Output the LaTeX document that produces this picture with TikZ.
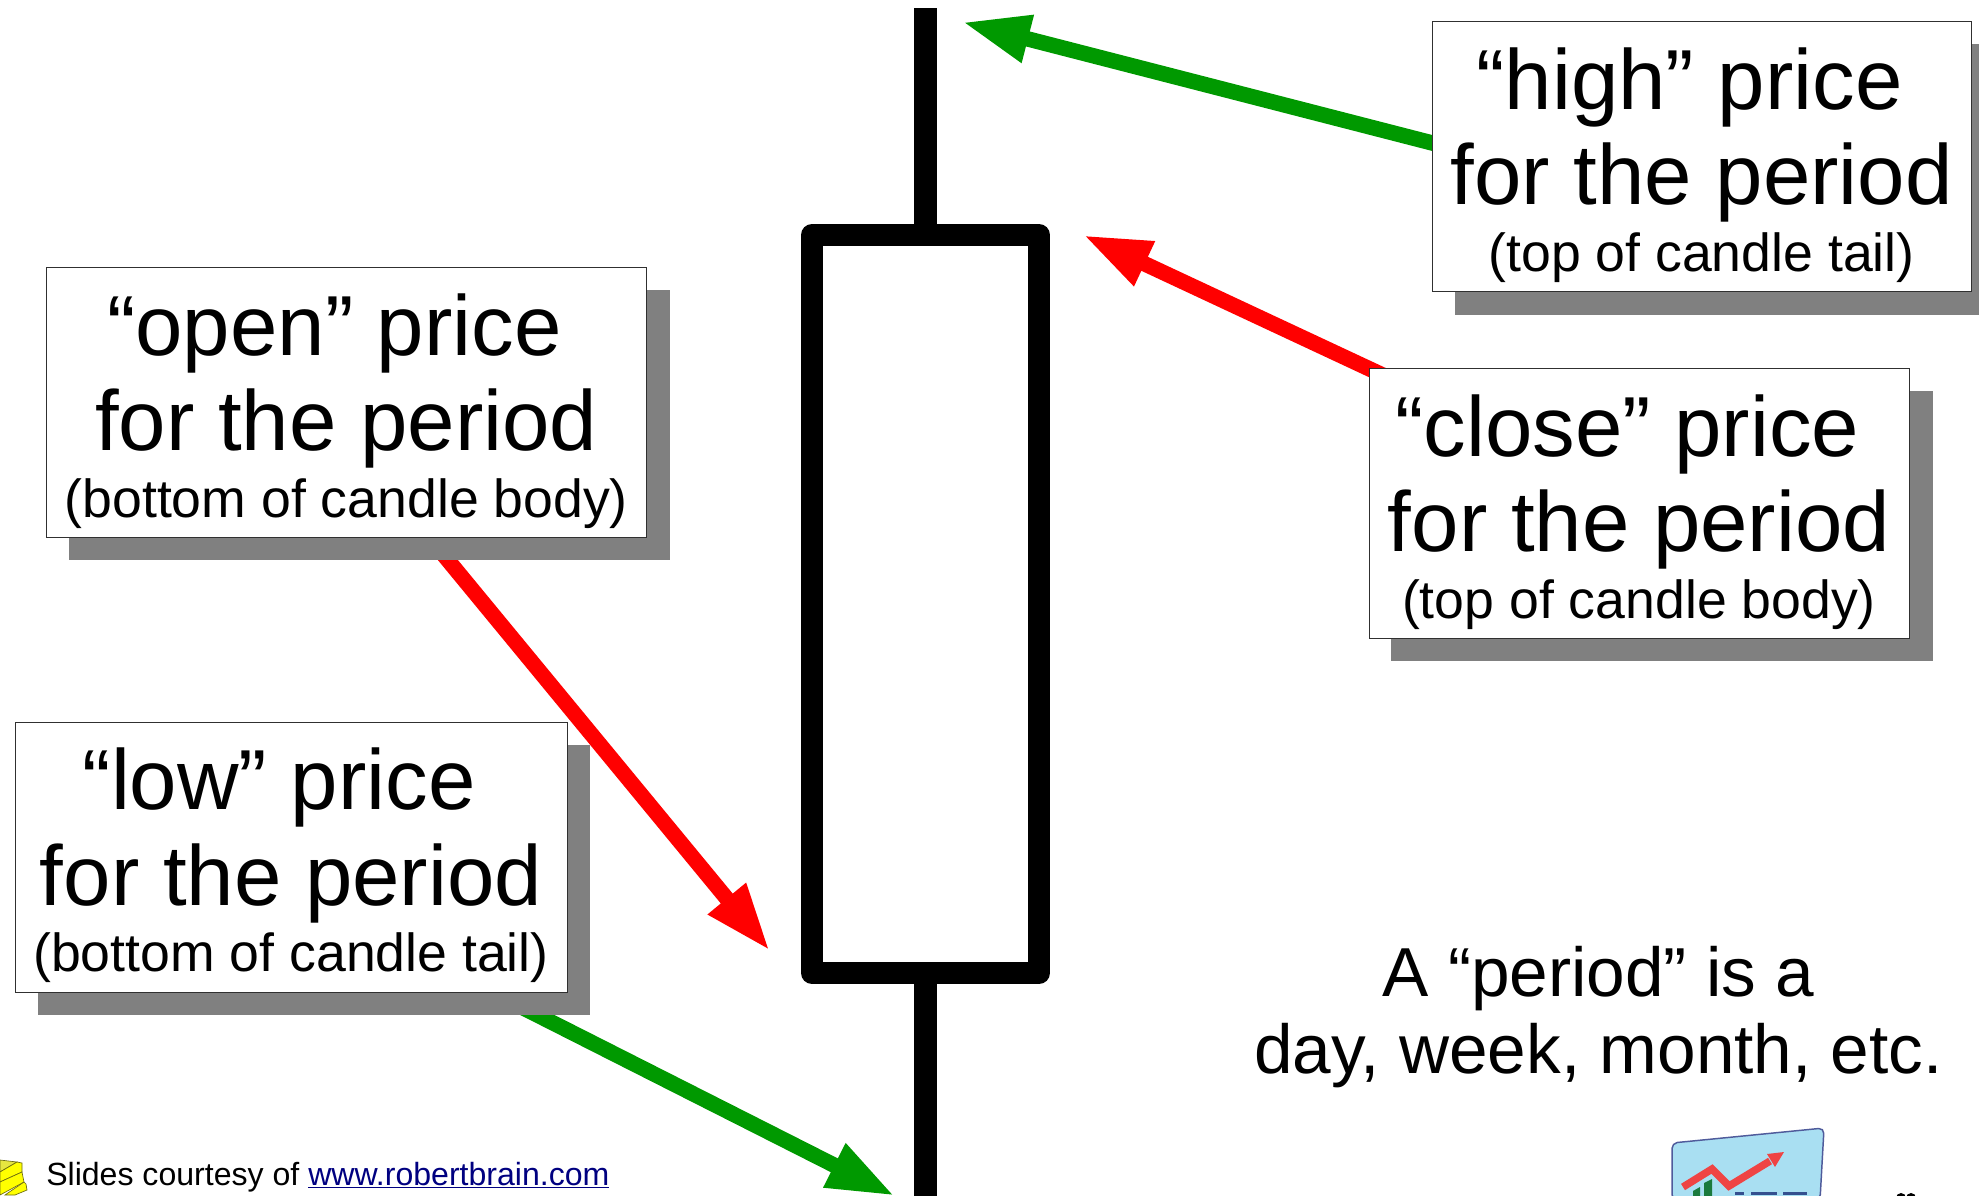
\documentclass[tikz,border=0pt]{standalone}
\usepackage{fontspec}
\setmainfont{Liberation Sans}
\usetikzlibrary{arrows.meta,calc}
\definecolor{arrowgreen}{HTML}{009900}
\definecolor{arrowred}{HTML}{FF0000}
\definecolor{shadowgray}{HTML}{808080}
\definecolor{boxedge}{HTML}{303030}
\definecolor{linknavy}{HTML}{000080}
\definecolor{logosky}{HTML}{A9DFF2}
\definecolor{logoedge}{HTML}{4F5B9B}
\definecolor{logored}{HTML}{EF4444}
\definecolor{logogreen}{HTML}{1B7A3D}
\definecolor{logonavy}{HTML}{35508F}
\definecolor{bookyellow}{HTML}{FFFF00}
\definecolor{bookpale}{HTML}{E6E640}
\definecolor{bookedge}{HTML}{6B6B10}
\pgfdeclarelayer{lowerarrows}
\pgfdeclarelayer{lowshadowlayer}
\pgfdeclarelayer{openarrowlayer}
\pgfsetlayers{lowerarrows,lowshadowlayer,openarrowlayer,main}
\newcommand{\pricetext}[3]{%
  \rule{0pt}{59pt}#1\hspace*{.278em}\\
  #2\\[-21.6pt]
  {\fontsize{40.2}{49.5}\selectfont\rule[-8.4pt]{0pt}{8.4pt}#3}}
\tikzset{
  x=0.75pt,y=-0.75pt,
  pricebox/.style={draw=boxedge,line width=0.75pt,fill=white,rectangle,inner sep=0pt,outer sep=0pt,
    minimum width=#1*0.75pt,minimum height=202.5pt,align=center,
    font=\fontsize{63.9}{71.6}\selectfont},
  pricebox/.default=600,
  boxshadow/.style={fill=shadowgray,draw=none,rectangle,inner sep=0pt,outer sep=0pt,minimum height=202.5pt},
  pointer/.style={line width=11.6pt,-{Triangle[length=51pt,width=33.75pt]}},
  wick/.style={line width=17.25pt,draw=black},
  candlebody/.style={draw=black,fill=white,line width=16.5pt,line join=round,rectangle,inner sep=0pt,outer sep=0pt,
    minimum width=170.25pt,minimum height=553.5pt},
  booksides/.style={draw=bookedge,line width=0.5pt,fill=bookyellow},
}
\begin{document}
\begin{tikzpicture}
\useasboundingbox (0,0) rectangle (1979,1195);

% candle
\coordinate (wicktop) at (925.5,8);
\coordinate (wickbottom) at (925.5,1196);
\node[candlebody] (candle) at (925.5,604) {};
\begin{pgfonlayer}{lowerarrows}
\draw[wick] (candle.center) -- (wicktop);
\draw[wick] (candle.center) -- (wickbottom);
\end{pgfonlayer}

% labels
\node[boxshadow,minimum width=450.5pt] (openshadow) at (369.3,425) {};
\node[pricebox=600] (openbox) at (346.3,402.5) {\pricetext{“open” price}{for the period}{(bottom of candle body)}};

\begin{pgfonlayer}{lowshadowlayer}
\node[boxshadow,minimum width=413.75pt] (lowshadow) at (313.8,880) {};
\end{pgfonlayer}
\node[pricebox=552] (lowbox) at (291,857) {\pricetext{“low” price}{for the period}{(bottom of candle tail)}};

\node[boxshadow,minimum width=393pt,anchor=west] (highshadow) at (1455,179.5) {};
\node[pricebox=539] (highbox) at (1701.5,156.5) {\pricetext{“high” price}{for the period}{(top of candle tail)}};

\node[boxshadow,minimum width=406.5pt] (closeshadow) at (1661.5,525.5) {};
\node[pricebox=540] (closebox) at (1639,503.5) {\pricetext{“close” price}{for the period}{(top of candle body)}};

% arrows
\coordinate (hightip) at (962,22);
\coordinate (closetip) at (1083,235);
\coordinate (opentip) at (770,951);
\coordinate (lowtip) at (895,1196);
\coordinate (highstart) at ([shift={(8,-11.5)}]highbox.west);
\coordinate (closestart) at ([shift={(-249,-125)}]closebox.center);
\coordinate (openstart) at ([shift={(69,-17)}]openbox.south);
\coordinate (lowstart) at ([shift={(197,-2)}]lowbox.south);
\begin{pgfonlayer}{lowerarrows}
\draw[pointer,draw=arrowgreen,fill=arrowgreen] (highstart) -- (hightip);
\draw[pointer,draw=arrowred,fill=arrowred] (closestart) -- (closetip);
\draw[pointer,draw=arrowgreen,fill=arrowgreen] (lowstart) -- (lowtip);
\end{pgfonlayer}
\begin{pgfonlayer}{openarrowlayer}
\draw[pointer,draw=arrowred,fill=arrowred] (openstart) -- (opentip);
\end{pgfonlayer}

% note
\node[align=center,inner sep=0pt,font=\fontsize{52}{58.3}\selectfont] (note) at (1598.5,1017) {A “period” is a\\day, week, month, etc.};

% credit
\node[anchor=base west,inner sep=0pt,font=\fontsize{24.05}{28}\selectfont] (credit) at (46,1185) {Slides courtesy of {\color{linknavy}\underline{www.robertbrain.com}}};

% book logo, left corner
\fill[bookpale,draw=bookedge,line width=0.5pt] (0,1160) -- (17,1162) -- (0,1172) -- cycle;
\path[booksides] (0,1172) -- (17,1162) -- (22,1163) -- (22,1172) -- (0,1182) -- cycle;
\path[booksides] (0,1182) -- (22,1172) -- (24,1182) -- (0,1195) -- cycle;
\path[booksides] (24,1182) -- (26,1184) -- (27,1190) -- (15,1195) -- (5,1195) -- cycle;

% chart logo, right corner
\begin{scope}
\clip (0,0) rectangle (1979,1195);
\path[fill=logosky,draw=logoedge,line width=1.1pt,rounded corners=4pt]
  (1672,1143) -- (1824,1128) -- (1820,1200) -- (1672,1200) -- cycle;
\fill[logogreen] (1693,1191) -- (1700,1187) -- (1700,1200) -- (1693,1200) -- cycle;
\fill[logogreen] (1704,1183) -- (1712,1179) -- (1712,1200) -- (1704,1200) -- cycle;
\draw[logored,line width=5.6pt,line join=miter] (1683,1187) -- (1712,1169) -- (1729,1186) -- (1770,1161);
\fill[logored] (1784,1152) -- (1767,1154) -- (1775,1167) -- cycle;
\fill[logonavy] (1735,1192) rectangle (1744,1195);
\fill[logonavy] (1751,1192) rectangle (1777,1195);
\fill[logonavy] (1783,1192) rectangle (1807,1195);
\fill[black] (1901,1198) circle (5);
\fill[black] (1911,1198) circle (5);
\end{scope}
\end{tikzpicture}
\end{document}
